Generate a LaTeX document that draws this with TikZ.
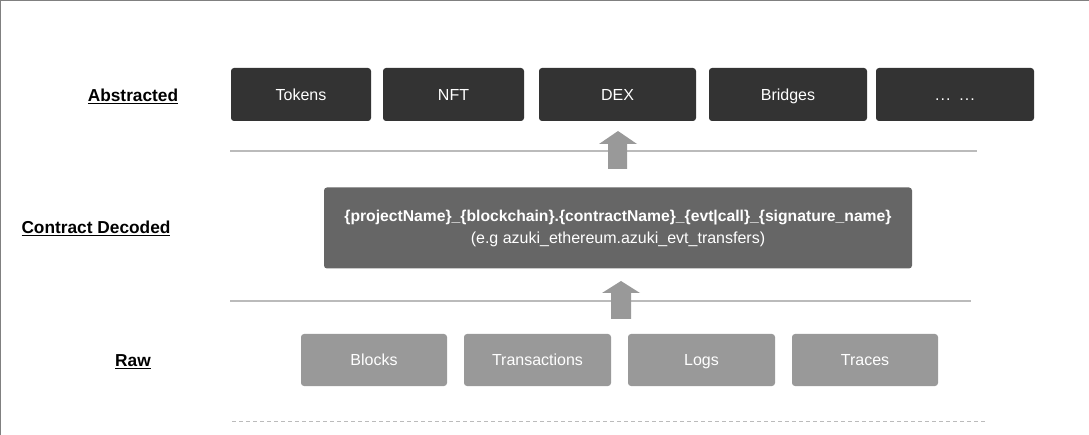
\documentclass[tikz,border=0pt]{standalone}
\usepackage{fontspec}
\setmainfont{Liberation Sans}
\definecolor{cdark}{HTML}{333333}
\definecolor{cmid}{HTML}{666666}
\definecolor{clight}{HTML}{999999}
\definecolor{cline}{HTML}{BBBBBB}
\definecolor{cborder}{HTML}{808080}
\definecolor{carrow}{HTML}{999999}
\begin{document}
\begin{tikzpicture}[x=1pt,y=-1pt,
  box/.style={rounded corners=3pt, inner sep=0pt, text=white, font=\fontsize{16}{19}\selectfont, align=center},
  topbox/.style={box, fill=cdark, minimum height=53pt, text height=11.5pt, text depth=0pt},
  midbox/.style={box, fill=cmid, minimum height=81pt, minimum width=588pt},
  rawbox/.style={box, fill=clight, minimum height=52pt, text height=11.5pt, text depth=0pt},
  layerlabel/.style={font=\fontsize{17.3}{20}\selectfont\bfseries, text=black, inner sep=0pt},
  sepline/.style={draw=cline, line width=1.2pt},
  dashline/.style={draw=cline, line width=1pt, dash pattern=on 4pt off 3pt},
  blockarrow/.style={fill=carrow, draw=none},
  frameline/.style={draw=cborder, line width=1.2pt}]
\useasboundingbox (0,0) rectangle (1089,435);
\draw[frameline] (0.6,435) -- (0.6,0.6) -- (1089,0.6);

% layer labels
\node[layerlabel] (labAbs) at (133,96) {\underline{Abstracted}};
\node[layerlabel] (labDec) at (96,228) {\underline{Contract Decoded}};
\node[layerlabel] (labRaw) at (133,362) {\underline{Raw}};

% abstracted layer
\node[topbox, minimum width=140pt] (tokens) at (301,94.5) {Tokens};
\node[topbox, minimum width=141pt] (nft) at (453.5,94.5) {NFT};
\node[topbox, minimum width=157pt] (dex) at (617.5,94.5) {DEX};
\node[topbox, minimum width=158pt] (bridges) at (788,94.5) {Bridges};
\node[topbox, minimum width=158pt] (etc) at (955,94.5) {.\kern1pt.\kern1pt.\ \ .\kern1pt.\kern1pt.};

% separator 1 and arrow 1
\coordinate (s1a) at (230,151);
\coordinate (s1b) at (977,151);
\draw[sepline] (s1a) -- (s1b);

% decoded layer
\node[midbox] (decoded) at (618,228) {{\bfseries\fontsize{15.7}{22}\selectfont \{projectName\}\_\{blockchain\}.\{contractName\}\_\{evt|call\}\_\{signature\_name\}}\\[3pt]
(e.g azuki\_ethereum.azuki\_evt\_transfers)};

\fill[blockarrow] (608,169) -- (608,144) -- (599,144) -- (618,131) -- (637,144) -- (627,144) -- (627,169) -- cycle;

% separator 2 and arrow 2
\coordinate (s2a) at (230,301);
\coordinate (s2b) at (971,301);
\draw[sepline] (s2a) -- (s2b);
\fill[blockarrow] (611,319) -- (611,293) -- (602,293) -- (621,281) -- (640,293) -- (631,293) -- (631,319) -- cycle;

% raw layer
\node[rawbox, minimum width=146pt] (blocks) at (374,360) {Blocks};
\node[rawbox, minimum width=147pt] (txs) at (537.5,360) {Transactions};
\node[rawbox, minimum width=147pt] (logs) at (701.5,360) {Logs};
\node[rawbox, minimum width=146pt] (traces) at (865,360) {Traces};

% dashed bottom line
\coordinate (d1) at (232,421);
\coordinate (d2) at (985,421);
\draw[dashline] (d1) -- (d2);
\end{tikzpicture}
\end{document}
